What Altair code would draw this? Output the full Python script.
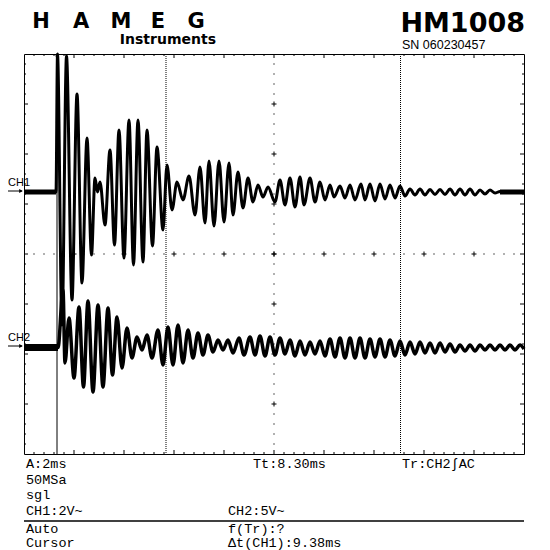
import altair as alt
import pandas as pd

# ---------------- data: time in ms, amplitude in screen divisions (centre = 0) ----------------
ch1 = [(0.00, 1.24), (1.28, 1.24), (1.34, 4.00), (1.52, -1.42), (1.70, 3.96), (1.92, -0.92),
       (2.12, 3.20), (2.32, -0.58), (2.52, 2.32), (2.70, -0.02), (2.84, 1.52), (2.94, 1.24),
       (3.04, 1.44), (3.24, 0.58), (3.44, 2.08), (3.62, 0.18), (3.80, 2.48), (4.00, -0.08),
       (4.20, 2.68), (4.38, -0.22), (4.56, 2.68), (4.76, -0.16), (4.92, 2.48), (5.14, 0.16),
       (5.32, 2.14), (5.56, 0.48), (5.72, 1.78), (5.92, 0.88), (6.12, 1.44), (6.36, 1.08),
       (6.60, 1.56), (6.84, 0.78), (7.04, 1.74), (7.24, 0.62), (7.40, 1.86), (7.60, 0.56),
       (7.80, 1.86), (8.00, 0.64), (8.20, 1.82), (8.36, 0.78), (8.56, 1.64), (8.76, 0.92),
       (8.96, 1.52), (9.16, 1.04), (9.36, 1.38), (9.56, 1.14), (9.76, 1.34), (10.04, 1.04),
       (10.24, 1.48), (10.44, 0.98), (10.64, 1.52), (10.84, 0.94), (11.04, 1.54), (11.20, 0.98),
       (11.44, 1.52), (11.64, 1.04), (11.84, 1.44), (12.04, 1.08), (12.24, 1.38), (12.40, 1.14),
       (12.64, 1.36), (12.84, 1.12), (13.04, 1.38), (13.24, 1.08), (13.48, 1.40), (13.64, 1.08),
       (13.84, 1.40), (14.04, 1.06), (14.24, 1.40), (14.44, 1.10), (14.64, 1.38), (14.84, 1.12),
       (15.04, 1.36), (15.24, 1.16), (15.44, 1.30), (15.64, 1.18), (15.84, 1.30), (16.04, 1.18),
       (16.24, 1.29), (16.44, 1.19), (16.64, 1.29), (16.84, 1.19), (17.04, 1.30), (17.24, 1.18),
       (17.44, 1.30), (17.64, 1.18), (17.84, 1.30), (18.04, 1.18), (18.24, 1.28), (18.44, 1.20),
       (18.64, 1.28), (18.84, 1.22), (19.04, 1.25), (20.00, 1.25)]

ch2 = [(0.00, -1.87), (1.36, -1.87), (1.56, -0.72), (1.64, -2.18), (1.80, -1.28), (2.00, -2.48),
       (2.20, -1.06), (2.38, -2.66), (2.56, -0.94), (2.76, -2.76), (2.96, -1.02), (3.16, -2.66),
       (3.36, -1.08), (3.54, -2.42), (3.72, -1.26), (3.92, -2.28), (4.12, -1.48), (4.32, -2.08),
       (4.52, -1.66), (4.72, -1.92), (4.92, -1.62), (5.12, -2.08), (5.36, -1.52), (5.56, -2.22),
       (5.76, -1.46), (5.96, -2.22), (6.16, -1.42), (6.36, -2.18), (6.56, -1.52), (6.76, -2.08),
       (6.96, -1.58), (7.16, -2.02), (7.36, -1.62), (7.56, -1.96), (7.76, -1.72), (7.96, -1.92),
       (8.16, -1.72), (8.36, -1.98), (8.60, -1.68), (8.80, -2.02), (9.04, -1.66), (9.24, -2.02),
       (9.44, -1.64), (9.64, -2.04), (9.84, -1.66), (10.04, -2.02), (10.24, -1.68), (10.44, -2.00),
       (10.64, -1.72), (10.84, -2.04), (11.04, -1.74), (11.24, -2.02), (11.44, -1.76), (11.64, -2.00),
       (11.84, -1.74), (12.04, -2.04), (12.24, -1.70), (12.44, -2.06), (12.64, -1.68), (12.84, -2.08),
       (13.04, -1.68), (13.24, -2.08), (13.44, -1.68), (13.64, -2.08), (13.84, -1.70), (14.04, -2.06),
       (14.24, -1.70), (14.44, -2.06), (14.64, -1.72), (14.84, -2.04), (15.04, -1.74), (15.24, -2.02),
       (15.44, -1.76), (15.64, -2.00), (15.84, -1.76), (16.04, -1.98), (16.24, -1.78), (16.44, -1.98),
       (16.64, -1.78), (16.84, -1.96), (17.04, -1.80), (17.24, -1.96), (17.44, -1.82), (17.64, -1.94),
       (17.84, -1.82), (18.04, -1.94), (18.24, -1.82), (18.44, -1.92), (18.64, -1.82), (18.84, -1.92),
       (19.04, -1.82), (19.24, -1.92), (19.44, -1.82), (19.64, -1.92), (19.84, -1.82), (20.00, -1.90)]

ch1_flat = [(0.00, 1.24), (1.28, 1.24), (19.04, 1.24), (20.00, 1.24)]
ch2_flat = [(0.00, -1.87), (1.36, -1.87)]
cursor_t = [5.68, 15.06]
trigger_t = [1.32]

brand_letters = ["H", "A", "M", "E", "G"]
top_left_rows = ["A:2ms", "50MSa", "sgl", "CH1:2V~"]
mid_rows = ["CH2:5V~"]
bottom_left_rows = ["Auto", "Cursor"]
bottom_mid_rows = ["f(Tr):?", "\u0394t(CH1):9.38ms"]
status_mid = "Tt:8.30ms"
status_right = "Tr:CH2\u222bAC"

# ---------------- helpers ----------------
XS = alt.Scale(domain=[0, 20], nice=False, zero=False)
YS = alt.Scale(domain=[-4, 4], nice=False, zero=False)
MONO = "Liberation Mono"
MONO_SIZE = 13.5


def trace(points, width):
    df = pd.DataFrame(points, columns=["t", "v"]).reset_index()
    return alt.Chart(df).mark_line(color="black", strokeWidth=width, interpolate="monotone").encode(
        x=alt.X("t:Q", scale=XS, axis=None),
        y=alt.Y("v:Q", scale=YS, axis=None),
        order="index:Q")


def flat(points, width):
    layers = []
    for i in range(0, len(points), 2):
        df = pd.DataFrame(points[i:i + 2], columns=["t", "v"])
        layers.append(alt.Chart(df).mark_line(color="black", strokeWidth=width).encode(
            x=alt.X("t:Q", scale=XS, axis=None), y=alt.Y("v:Q", scale=YS, axis=None)))
    return layers


def label(txt, x, y, size=MONO_SIZE, font=MONO, weight="normal", align="left"):
    return alt.Chart(pd.DataFrame({"s": [txt]})).mark_text(
        font=font, fontSize=size, fontWeight=weight, align=align, baseline="alphabetic",
        color="black").encode(x=alt.value(x), y=alt.value(y), text="s:N")


# tick / graticule positions
minor_x = [round(i * 0.4, 2) for i in range(1, 50) if i % 5]
major_x = [float(i * 2) for i in range(1, 10)]
minor_y = [round(-4 + i * 0.2, 2) for i in range(1, 40) if i % 5]
major_y = [float(-4 + i) for i in range(1, 8)]

layers = []
# edge ticks
for vals, ln in [(minor_x, 2), (major_x, 4)]:
    d = pd.DataFrame({"t": vals})
    layers.append(alt.Chart(d).mark_rule(color="black", strokeWidth=1).encode(
        x=alt.X("t:Q", scale=XS, axis=None), y=alt.value(0), y2=alt.value(ln)))
    layers.append(alt.Chart(d).mark_rule(color="black", strokeWidth=1).encode(
        x=alt.X("t:Q", scale=XS, axis=None), y=alt.value(400), y2=alt.value(400 - ln)))
for vals, ln in [(minor_y, 2), (major_y, 4)]:
    d = pd.DataFrame({"v": vals})
    layers.append(alt.Chart(d).mark_rule(color="black", strokeWidth=1).encode(
        y=alt.Y("v:Q", scale=YS, axis=None), x=alt.value(0), x2=alt.value(ln)))
    layers.append(alt.Chart(d).mark_rule(color="black", strokeWidth=1).encode(
        y=alt.Y("v:Q", scale=YS, axis=None), x=alt.value(500), x2=alt.value(500 - ln)))

# centre graticule: dots and crosses
dots = pd.DataFrame([(t, 0.0) for t in minor_x] + [(10.0, v) for v in minor_y], columns=["t", "v"])
crosses = pd.DataFrame([(t, 0.0) for t in major_x] + [(10.0, v) for v in major_y], columns=["t", "v"])
layers.append(alt.Chart(dots).mark_square(size=1.5, color="black", opacity=1).encode(
    x=alt.X("t:Q", scale=XS, axis=None), y=alt.Y("v:Q", scale=YS, axis=None)))
layers.append(alt.Chart(crosses).mark_point(shape="M-1,0H1M0,-1V1", size=25, filled=False,
                                            color="black", strokeWidth=1, opacity=1).encode(
    x=alt.X("t:Q", scale=XS, axis=None), y=alt.Y("v:Q", scale=YS, axis=None)))

# cursors and trigger line
layers.append(alt.Chart(pd.DataFrame({"t": cursor_t})).mark_rule(
    color="black", strokeWidth=1, strokeDash=[1, 1]).encode(
    x=alt.X("t:Q", scale=XS, axis=None), y=alt.value(0), y2=alt.value(400)))
layers.append(alt.Chart(pd.DataFrame({"t": trigger_t})).mark_rule(
    color="black", strokeWidth=1).encode(
    x=alt.X("t:Q", scale=XS, axis=None), y=alt.value(0), y2=alt.value(400)))
layers.append(alt.Chart(pd.DataFrame({"t": trigger_t})).mark_point(
    shape="triangle-down", size=14, filled=True, color="black", opacity=1).encode(
    x=alt.X("t:Q", scale=XS, axis=None), y=alt.value(3)))

# traces
layers += flat(ch1_flat, 5)
layers += flat(ch2_flat, 7)
layers.append(trace(ch1, 3))
layers.append(trace(ch2, 3.5))

# channel markers
for name, yt, ya in [("CH1", 132, 137), ("CH2", 287, 292)]:
    layers.append(label(name, -16, yt, size=11, font="Liberation Sans"))
    layers.append(alt.Chart(pd.DataFrame({"s": [name]})).mark_rule(color="black", strokeWidth=1).encode(
        x=alt.value(-16), x2=alt.value(-2), y=alt.value(ya)))
    layers.append(alt.Chart(pd.DataFrame({"s": [name]})).mark_point(
        shape="triangle-right", size=18, filled=True, color="black", opacity=1).encode(
        x=alt.value(-3), y=alt.value(ya)))

# header
for ch, cx in zip(brand_letters, [17, 57, 97, 134, 172]):
    layers.append(label(ch, cx, -26, size=21, font="DejaVu Sans", weight="bold", align="center"))
layers.append(label("Instruments", 192, -10, size=14, font="DejaVu Sans", weight="bold", align="right"))
layers.append(label("HM1008", 501, -22, size=27, font="DejaVu Sans", weight="bold", align="right"))
layers.append(label("SN  060230457", 378, -5, size=12.5, font="Liberation Sans"))

# status text
row_y = [414, 430, 445, 461]
for txt, yy in zip(top_left_rows, row_y):
    layers.append(label(txt, 2, yy))
layers.append(label(mid_rows[0], 204, 461))
layers.append(label(status_mid, 229, 414))
layers.append(label(status_right, 378, 414))
layers.append(alt.Chart(pd.DataFrame({"s": ["sep"]})).mark_rule(color="black", strokeWidth=1.5).encode(
    x=alt.value(0), x2=alt.value(500), y=alt.value(467)))
for txt, yy in zip(bottom_left_rows, [478.5, 493]):
    layers.append(label(txt, 2, yy))
for txt, yy in zip(bottom_mid_rows, [478.5, 493]):
    layers.append(label(txt, 204, yy))

chart = alt.layer(*layers).properties(
    width=500, height=400,
    padding={"left": 16, "top": 46, "right": 18, "bottom": 96},
    autosize=alt.AutoSizeParams(type="none"),
    background="white",
).configure_view(stroke="black", strokeWidth=1)

chart.save("out.html", embed_options={"renderer": "svg", "actions": False})
